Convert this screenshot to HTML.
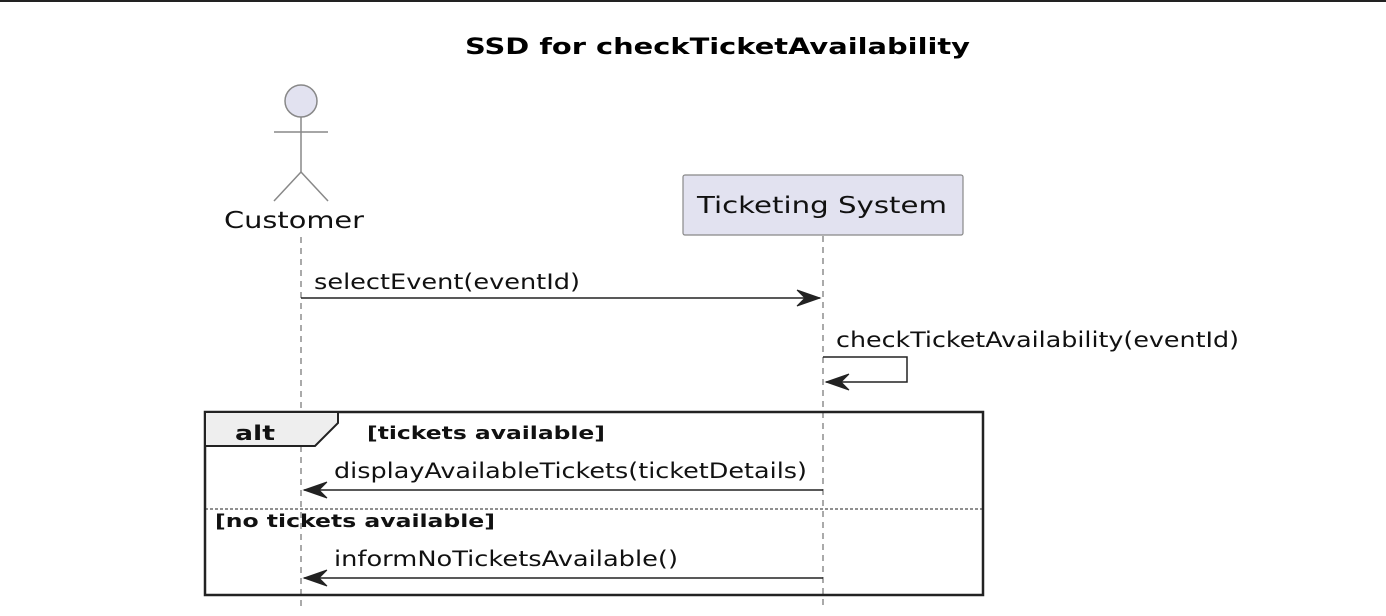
<!DOCTYPE html>
<html><head><style>
html,body{margin:0;padding:0;background:#fff;}
svg{display:block;font-family:"DejaVu Sans","Liberation Sans",sans-serif;}
</style></head><body>
<svg width="1386" height="616" viewBox="0 0 1386 616" xmlns="http://www.w3.org/2000/svg">
<rect x="0" y="0" width="1386" height="616" fill="#fff"/>
<line x1="0" y1="1" x2="1386" y2="1" stroke="#222" stroke-width="2"/>
<text x="465" y="54" font-size="22" font-weight="bold" fill="#000" textLength="505" lengthAdjust="spacingAndGlyphs">SSD for checkTicketAvailability</text>
<!-- lifelines -->
<line x1="301" y1="237" x2="301" y2="606" stroke="#555" stroke-width="1" stroke-dasharray="6,5"/>
<line x1="823" y1="236" x2="823" y2="606" stroke="#555" stroke-width="1" stroke-dasharray="6,5"/>
<!-- actor -->
<circle cx="301" cy="101" r="16" fill="#e2e2f0" stroke="#888" stroke-width="1.5"/>
<line x1="301" y1="117" x2="301" y2="172" stroke="#888" stroke-width="1.5"/>
<line x1="274" y1="132" x2="328" y2="132" stroke="#888" stroke-width="1.5"/>
<line x1="301" y1="172" x2="274" y2="201" stroke="#888" stroke-width="1.5"/>
<line x1="301" y1="172" x2="328" y2="201" stroke="#888" stroke-width="1.5"/>
<text x="224" y="228" font-size="23" fill="#111" textLength="140" lengthAdjust="spacingAndGlyphs">Customer</text>
<!-- system -->
<rect x="683" y="175" width="280" height="60" rx="2" fill="#e2e2f0" stroke="#888" stroke-width="1.2"/>
<text x="697" y="213" font-size="23" fill="#111" textLength="250" lengthAdjust="spacingAndGlyphs">Ticketing System</text>
<!-- msg1 -->
<line x1="301" y1="298" x2="820" y2="298" stroke="#222" stroke-width="1.5"/>
<polyline points="797,290 820,298 797,306 805,298 797,290" fill="#222" stroke="#222" stroke-width="1"/>
<text x="314" y="289" font-size="21" fill="#111" textLength="266" lengthAdjust="spacingAndGlyphs">selectEvent(eventId)</text>
<!-- self -->
<text x="836" y="347" font-size="21" fill="#111" textLength="403" lengthAdjust="spacingAndGlyphs">checkTicketAvailability(eventId)</text>
<polyline points="823,357 907,357 907,382 826,382" fill="none" stroke="#222" stroke-width="1.5"/>
<polyline points="849,374 826,382 849,390 841,382 849,374" fill="#222" stroke="#222" stroke-width="1"/>
<!-- alt frame -->
<rect x="205" y="412" width="778" height="183" fill="none" stroke="#222" stroke-width="2.5"/>
<path d="M205,412 L338,412 L338,423 L315,446 L205,446 Z" fill="#eee" stroke="#222" stroke-width="2"/>
<text x="235" y="440" font-size="20" font-weight="bold" fill="#111" textLength="40" lengthAdjust="spacingAndGlyphs">alt</text>
<text x="367" y="439" font-size="18" font-weight="bold" fill="#111" textLength="238" lengthAdjust="spacingAndGlyphs">[tickets available]</text>
<line x1="304" y1="490" x2="823" y2="490" stroke="#222" stroke-width="1.5"/>
<polyline points="327,482 304,490 327,498 319,490 327,482" fill="#222" stroke="#222" stroke-width="1"/>
<text x="334" y="478" font-size="21" fill="#111" textLength="473" lengthAdjust="spacingAndGlyphs">displayAvailableTickets(ticketDetails)</text>
<line x1="205" y1="509" x2="983" y2="509" stroke="#222" stroke-width="1" stroke-dasharray="3,2"/>
<text x="215" y="527" font-size="18" font-weight="bold" fill="#111" textLength="280" lengthAdjust="spacingAndGlyphs">[no tickets available]</text>
<line x1="304" y1="578" x2="823" y2="578" stroke="#222" stroke-width="1.5"/>
<polyline points="327,570 304,578 327,586 319,578 327,570" fill="#222" stroke="#222" stroke-width="1"/>
<text x="334" y="566" font-size="21" fill="#111" textLength="344" lengthAdjust="spacingAndGlyphs">informNoTicketsAvailable()</text>
</svg>
</body></html>
